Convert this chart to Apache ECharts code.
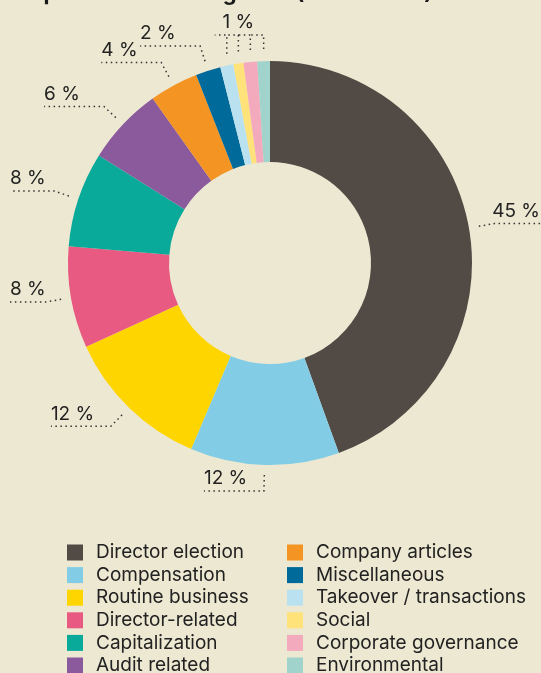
<!DOCTYPE html>
<html>
<head>
<meta charset="utf-8">
<script src="https://cdn.jsdelivr.net/npm/echarts@6/dist/echarts.min.js"></script>
<style>
html,body{margin:0;padding:0;background:#ede8d2;}
#chart{width:541px;height:673px;}
</style>
</head>
<body>
<div id="chart"></div>
<script>
// ---- data ----
const categories = ['Director election','Compensation','Routine business','Director-related','Capitalization','Audit related','Company articles','Miscellaneous','Takeover / transactions','Social','Corporate governance','Environmental'];
const values = [44.4, 11.9, 11.8, 8.1, 7.6, 6.2, 3.9, 2.0, 1.05, 0.8, 1.1, 1.0];
const percentLabels = ['45 %','12 %','12 %','8 %','8 %','6 %','4 %','2 %','1 %','1 %','1 %','1 %'];
const sharedLabelGroup = [8, 9, 10, 11]; // tiny slices sharing one "1 %" label
const sharedLabelOwner = 9;
const colors = ['#524a45','#82cde5','#ffd500','#e85a82','#0aaa9a','#8a5a9c','#f39423','#006a9a','#b9e1f0','#ffe27a','#f4aabd','#9fd3cb'];

// ---- layout constants ----
const W = 541;
const CX = 270, CY = 263, R_OUT = 202, R_IN = 101;
const GAP = 10, RADIAL = 16, LEN2 = 60;
const FONT = 'Inter';

const chart = echarts.init(document.getElementById('chart'), null, {renderer:'canvas'});
let prevGroupX = null;

const legendBase = {
  orient: 'vertical', top: 543, height: 160, padding: 0,
  itemWidth: 16, itemHeight: 16, itemGap: 3.6, icon: 'rect',
  selectedMode: false,
  textStyle: {fontFamily: FONT, fontSize: 19, color: '#222', padding: [0,0,0,8]}
};

const option = {
  backgroundColor: '#ede8d2',
  color: colors,
  title: {
    text: 'Top resolution categories (2013–2023)',
    left: 12, top: -23,
    textStyle: {fontFamily: FONT, fontSize: 22, fontWeight: 'bold', color: '#1a1a1a'}
  },
  legend: [
    Object.assign({}, legendBase, {data: categories.slice(0, 6), left: 67}),
    Object.assign({}, legendBase, {data: categories.slice(6), left: 287})
  ],
  series: [{
    type: 'pie',
    center: [CX, CY],
    radius: [R_IN, R_OUT],
    startAngle: 90,
    clockwise: true,
    avoidLabelOverlap: false,
    animation: false,
    emphasis: {disabled: true},
    itemStyle: {borderWidth: 0},
    data: categories.map((n, i) => ({name: n, value: values[i]})),
    label: {
      show: true,
      position: 'outside',
      fontFamily: FONT,
      fontSize: 19,
      color: '#222',
      formatter: (p) => {
        const i = p.dataIndex;
        if (sharedLabelGroup.includes(i) && i !== sharedLabelOwner) return ' ';
        return percentLabels[i];
      }
    },
    labelLine: {
      show: true, length: 10, length2: 40, smooth: false,
      lineStyle: {color: '#333', width: 1.5, type: [1.5, 3.5]}
    },
    labelLayout: (params) => {
      const i = params.dataIndex;
      const pts = params.labelLinePoints;
      if (!pts) return {};
      const p0 = pts[0];
      const dx = p0[0] - CX, dy = p0[1] - CY;
      const d = Math.hypot(dx, dy) || 1;
      const ux = dx / d, uy = dy / d;
      if (sharedLabelGroup.includes(i)) {
        const x0 = p0[0];
        const yTop = CY - R_OUT - 26;
        const startY = p0[1] - GAP - 2;
        let xEnd;
        if (i === sharedLabelGroup[0] || prevGroupX === null) xEnd = x0 - 12;
        else xEnd = prevGroupX;
        prevGroupX = x0;
        if (i === sharedLabelGroup[sharedLabelGroup.length - 1]) prevGroupX = null;
        return {
          x: x0, y: yTop - 3, align: 'center', verticalAlign: 'bottom',
          labelLinePoints: [[x0, startY], [x0, yTop], [xEnd, yTop]]
        };
      }
      const s = [p0[0] + ux * GAP, p0[1] + uy * GAP];
      const c = [p0[0] + ux * (GAP + RADIAL), p0[1] + uy * (GAP + RADIAL)];
      const isLeft = ux < 0;
      const ex = isLeft ? Math.max(c[0] - LEN2, 10) : Math.min(c[0] + LEN2, W);
      const e = [ex, c[1]];
      return {
        x: e[0] + (isLeft ? 0 : -1), y: e[1] - 3,
        align: isLeft ? 'left' : 'right', verticalAlign: 'bottom',
        labelLinePoints: [s, c, e]
      };
    }
  }]
};
chart.setOption(option);
</script>
</body>
</html>
